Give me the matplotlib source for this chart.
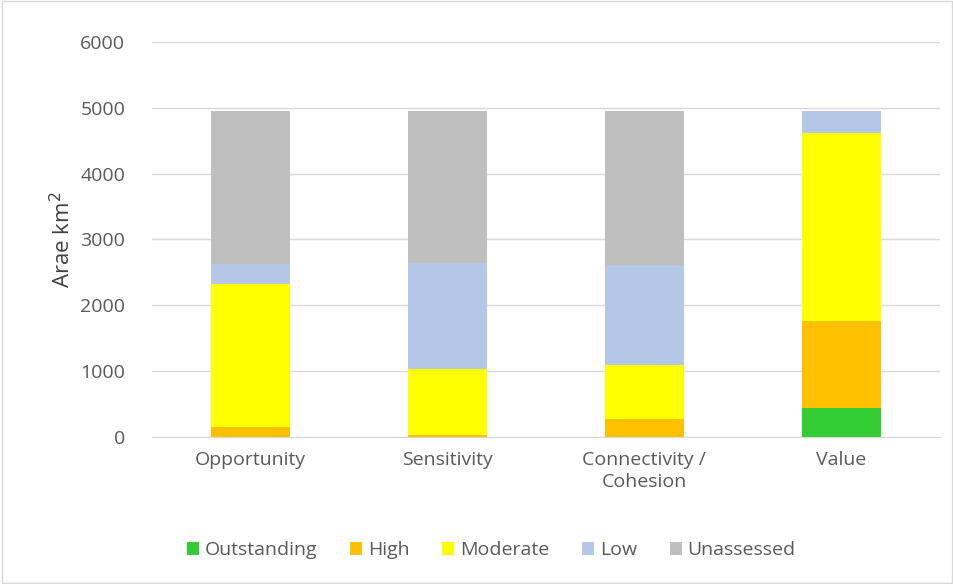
import numpy as np
import matplotlib
matplotlib.use("Agg")
import matplotlib.pyplot as plt

# bar categories and stacked values (km2)
categories = ['Opportunity', 'Sensitivity', 'Connectivity /\nCohesion', 'Value']
outstanding = [0, 0, 0, 440]
high = [150, 30, 270, 1320]
moderate = [2180, 1000, 820, 2860]
low = [300, 1610, 1520, 330]
unassessed = [2320, 2310, 2340, 0]

series_names = ['Outstanding', 'High', 'Moderate', 'Low', 'Unassessed']
series_colors = ['#33CC33', '#FFC000', '#FFFF00', '#B4C7E7', '#BFBFBF']

plt.rcParams['font.family'] = ['Open Sans', 'DejaVu Sans']
text_col = '#595959'

fig = plt.figure(figsize=(9.54, 5.84), dpi=100)
ax = fig.add_axes([0.159, 0.252, 0.826, 0.676])

x = np.arange(len(categories))
bottom = np.zeros(len(categories))
for name, vals, col in zip(series_names, [outstanding, high, moderate, low, unassessed], series_colors):
    ax.bar(x, vals, width=0.4, bottom=bottom, color=col, label=name, zorder=3)
    bottom += np.array(vals)

ax.set_xlim(-0.5, 3.5)
ax.set_ylim(0, 6000)
ax.set_yticks(range(0, 6001, 1000))
ax.set_xticks(x)
ax.set_xticklabels(categories, fontsize=14, color=text_col, linespacing=1.3)
ax.tick_params(axis='y', labelsize=14, labelcolor=text_col, length=0, pad=19)
ax.tick_params(axis='x', length=0, pad=10)
ax.grid(axis='y', color='#D9D9D9', linewidth=1, zorder=0)
for s in ['top', 'right', 'left']:
    ax.spines[s].set_visible(False)
ax.spines['bottom'].set_color('#D9D9D9')
ax.set_ylabel('Arae km$^2$', fontsize=16, color='#404040', labelpad=4)

leg = fig.legend(loc='lower center', bbox_to_anchor=(0.515, 0.012), ncol=5, frameon=False,
                 fontsize=14, handlelength=0.6, handleheight=0.6, handletextpad=0.3,
                 columnspacing=1.7)
for t in leg.get_texts():
    t.set_color(text_col)

# thin light border around the whole figure
fig.patches.append(plt.Rectangle((0.002, 0.002), 0.996, 0.996, transform=fig.transFigure,
                                 fill=False, edgecolor='#D9D9D9', linewidth=1))

fig.savefig('out.png', dpi=100)
